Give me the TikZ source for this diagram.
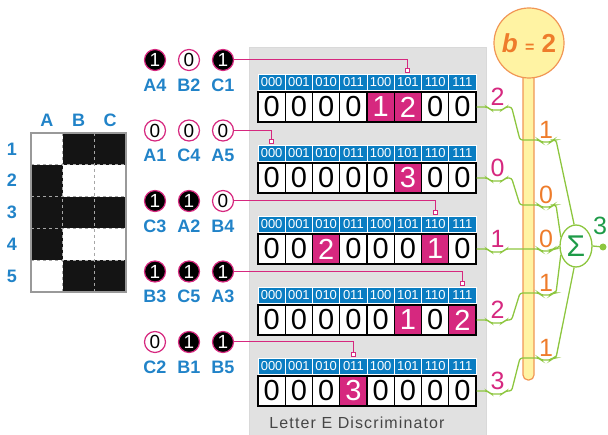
\documentclass[tikz,border=0pt]{standalone}
\usepackage{fontspec}
\setmainfont{Liberation Sans}
\usetikzlibrary{shapes.geometric,calc}
\definecolor{magline}{HTML}{D6287F}
\definecolor{hdblue}{HTML}{0A7DC2}
\definecolor{lblue}{HTML}{2183C8}
\definecolor{panelgray}{HTML}{E1E1E1}
\definecolor{lgreen}{HTML}{8DC63F}
\definecolor{dgreen}{HTML}{1E9B48}
\definecolor{biasorange}{HTML}{EE7C2B}
\definecolor{biasyellow}{HTML}{FFF3A3}

\begin{document}
\begin{tikzpicture}[
    x=1pt, y=-1pt,
    lbl/.style={text=lblue, font=\fontsize{18}{18}\selectfont\bfseries},
    bit/.style={circle, draw=magline, line width=1.2pt, minimum size=21pt, inner sep=0pt, font=\fontsize{19}{19}\selectfont},
    bit1/.style={bit, fill=black, text=white},
    bit0/.style={bit, fill=white, text=black},
    hdcell/.style={draw=white, line width=0.8pt, fill=hdblue, text=white, minimum width=27.25pt, minimum height=16pt, inner sep=0pt, font=\fontsize{13}{13}\selectfont},
    cold/.style={draw=black, line width=1.2pt, fill=white, text=black, minimum width=27.25pt, minimum height=30pt, inner sep=0pt, font=\fontsize{29}{29}\selectfont},
    hot/.style={cold, fill=magline, text=white},
    tap/.style={draw=magline, fill=white, line width=0.8pt, minimum size=4pt, inner sep=0pt},
    wire/.style={draw=magline, line width=1pt},
    gline/.style={draw=lgreen, line width=1.3pt},
    outnum/.style={text=magline, font=\fontsize{25}{25}\selectfont},
    wnum/.style={text=biasorange, font=\fontsize{25}{25}\selectfont},
    sumnode/.style={ellipse, draw=lgreen, fill=white, line width=1.3pt, minimum width=32pt, minimum height=42pt, inner sep=0pt, text=dgreen, font=\fontsize{30}{30}\selectfont}
]
\useasboundingbox (0,0) rectangle (608,435);

    % letter grid
    \foreach \l [count=\c] in {A,B,C}
        \node[lbl] (col\l) at ({31+31.67*(\c-0.5)},120) {\l};
    \foreach \r/\row in {1/{0,1,1},2/{1,0,0},3/{1,1,1},4/{1,0,0},5/{0,1,1}} {
        \node[lbl] (row\r) at (12,{133+31.8*(\r-0.5)}) {\r};
        \foreach \v [count=\c] in \row {
            \ifnum\v=1 \def\cellfill{black!92}\else\def\cellfill{white}\fi
            \fill[\cellfill] ({31+31.67*(\c-1)},{133+31.8*(\r-1)}) rectangle ++(31.67,31.8);
        }
    }
    \foreach \c in {1,2}
        \draw[gray!70, dashed, line width=0.7pt] ({31+31.67*\c},133) -- ++(0,159);
    \foreach \r in {1,...,4}
        \draw[gray!70, dashed, line width=0.7pt] (31,{133+31.8*\r}) -- ++(95,0);
    \draw[gray!80, line width=1.2pt] (31,133) rectangle (126,292);

    % discriminator panel
    \fill[panelgray, draw=gray!30] (249,47) rectangle (486,440);
    \node[text=gray!55!black, font=\fontsize{16}{16}\selectfont\addfontfeature{LetterSpace=7}] (title) at (357,423) {Letter E Discriminator};

    % RAM tables
    \foreach \r/\vals in {1/{0,0,0,0,1,2,0,0}, 2/{0,0,0,0,0,3,0,0}, 3/{0,0,2,0,0,0,1,0}, 4/{0,0,0,0,0,1,0,2}, 5/{0,0,0,3,0,0,0,0}} {
        \pgfmathsetmacro\ty{74+71*(\r-1)}
        \foreach \a [count=\i from 0] in {000,001,010,011,100,101,110,111}
            \node[hdcell] (hd\r\i) at ({258+27.25*(\i+0.5)},\ty+8.5) {\a};
        \foreach \v [count=\i from 0] in \vals {
            \ifnum\v>0 \def\cs{hot}\else\def\cs{cold}\fi
            \node[\cs] (val\r\i) at ({258+27.25*(\i+0.5)},\ty+33) {\v};
        }
    }

    % inputs
    \foreach \r/\la/\va/\lb/\vb/\lc/\vc/\adr in {1/A4/1/B2/0/C1/1/5, 2/A1/0/C4/0/A5/0/0, 3/C3/1/A2/1/B4/0/6, 4/B3/1/C5/1/A3/1/7, 5/C2/0/B1/1/B5/1/3} {
        \pgfmathsetmacro\yy{60+70.5*(\r-1)}
        \node[bit\va] (in\r1) at (155,\yy) {\va};
        \node[bit\vb] (in\r2) at (189,\yy) {\vb};
        \node[bit\vc] (in\r3) at (223,\yy) {\vc};
        \node[lbl] at (155,\yy+25) {\la};
        \node[lbl] at (189,\yy+25) {\lb};
        \node[lbl] at (223,\yy+25) {\lc};
        \node[tap] (tap\r) at ({258+27.25*(\adr+0.5)},{74+71*(\r-1)-4}) {};
        \draw[wire] (in\r3) -| (tap\r);
    }

    % bias bar
    \draw[draw=biasorange!80, fill=biasyellow, line width=1.2pt, rounded corners=5pt] (523,60) -- (523,380) -- (534,380) -- (534,60);
    \node[circle, draw=biasorange!80, fill=biasyellow, line width=1.2pt, minimum size=70pt, text=biasorange, font=\fontsize{26}{26}\selectfont\bfseries] (bias) at (529,43) {\textit{b} {\fontsize{16}{16}\selectfont=} 2};

    % summation
    \node[sumnode] (sum) at (576,246) {Σ};
    \foreach \r/\m/\c/\w/\anc in {1/2/140/1/95, 2/0/205/0/150, 3/1/249/0/180, 4/2/293/1/210, 5/3/358/1/265} {
        \draw[gline, rounded corners=2.5pt] (val\r7.east) -- ++(11,0) -- ++(3,3) -- ++(12,0) -- ++(3,-3) -- ++(6,0) -- (520,\c) -- (539,\c) -- (541,\c+2) -- (551,\c+2) -- (553,\c) -- (556,\c) -- (sum.\anc);
        \node[outnum] at ($(val\r7.east)+(21,-10)$) {\m};
        \node[wnum] at (546,\c-10) {\w};
    }
    \coordinate (out) at (603,247);
    \draw[gline] (sum.east) -- (out);
    \fill[lgreen] (out) circle (3.5pt);
    \node[text=dgreen, font=\fontsize{25}{25}\selectfont] (outval) at (600,226) {3};

\end{tikzpicture}
\end{document}
